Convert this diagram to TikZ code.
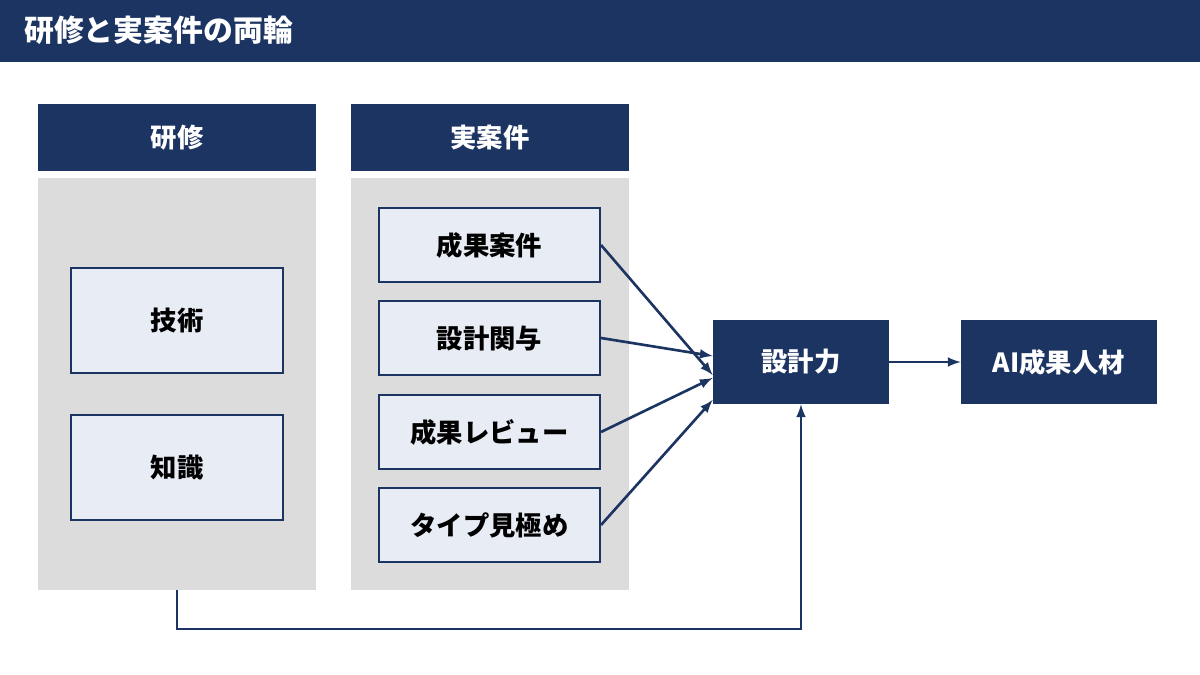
\documentclass[tikz,border=0pt]{standalone}
\usepackage{fontspec}
\setmainfont{Noto Sans CJK JP}
\usetikzlibrary{positioning}
\definecolor{navy}{HTML}{1C3461}
\definecolor{panel}{HTML}{DCDCDC}
\definecolor{pale}{HTML}{E8EDF5}
\tikzset{
  head/.style={fill=navy, text=white, font=\bfseries\fontsize{15}{18}\selectfont, inner sep=0pt},
  item/.style={draw=navy, line width=1.2pt, fill=pale, font=\bfseries\fontsize{15}{18}\selectfont, inner sep=0pt},
  dark/.style={fill=navy, text=white, font=\bfseries\fontsize{15}{18}\selectfont, inner sep=0pt},
  link/.style={-latex, draw=navy, line width=1.5pt}
}
\begin{document}
\begin{tikzpicture}[x=0.02cm, y=-0.02cm]
\useasboundingbox (0,0) rectangle (1200,675);
% title bar
\fill[navy] (0,0) rectangle (1200,62);
\node[anchor=west, text=white, font=\bfseries\fontsize{17}{20}\selectfont] (title) at (18,30) {研修と実案件の両輪};

% panels
\fill[panel] (38,178) rectangle (316,590);
\fill[panel] (351,178) rectangle (629,590);
\node[head, minimum width=5.56cm, minimum height=1.34cm] (kenshu) at (177,137.5) {研修};
\node[head, minimum width=5.56cm, minimum height=1.34cm] (jitsu) at (490,137.5) {実案件};

% training items
\node[item, minimum width=4.24cm, minimum height=2.1cm] (gijutsu) at (177,320.5) {技術};
\node[item, minimum width=4.24cm, minimum height=2.1cm] (chishiki) at (177,467.5) {知識};

% project items
\node[item, minimum width=4.42cm, minimum height=1.48cm] (seika) at (489.5,245) {成果案件};
\node[item, minimum width=4.42cm, minimum height=1.48cm] (sekkei) at (489.5,338) {設計関与};
\node[item, minimum width=4.42cm, minimum height=1.48cm] (review) at (489.5,432) {成果レビュー};
\node[item, minimum width=4.42cm, minimum height=1.48cm] (type) at (489.5,525) {タイプ見極め};

% outcomes
\node[dark, minimum width=3.52cm, minimum height=1.68cm] (ryoku) at (801,362) {設計力};
\node[dark, minimum width=3.92cm, minimum height=1.68cm] (jinzai) at (1059,362) {AI成果人材};

\draw[link] (seika.east) -- ([yshift=-0.26cm]ryoku.west);
\draw[link] (sekkei.east) -- ([yshift=0.12cm]ryoku.west);
\draw[link] (review.east) -- ([yshift=-0.32cm]ryoku.west);
\draw[link] (type.east) -- ([yshift=-0.76cm]ryoku.west);
\draw[link] (ryoku) -- (jinzai);
\coordinate (bottom) at (177,590);
\draw[link] (bottom) -- ++(0,39) -| (ryoku.south);
\end{tikzpicture}
\end{document}
